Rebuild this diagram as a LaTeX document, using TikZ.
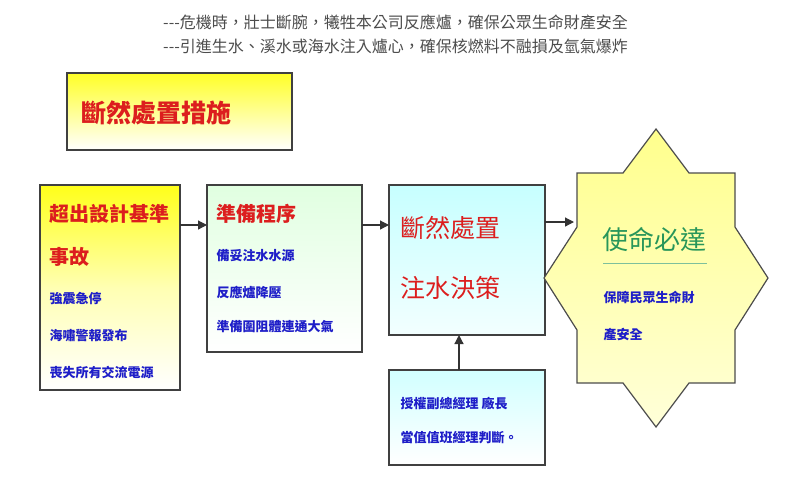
\documentclass[tikz,border=0pt]{standalone}
\usepackage{fontspec}
\setmainfont{Noto Sans CJK TC}
\usetikzlibrary{arrows.meta}
\definecolor{tred}{RGB}{220,30,30}
\definecolor{tblue}{RGB}{30,30,200}
\definecolor{tgreen}{RGB}{40,150,90}
\begin{document}
\begin{tikzpicture}[x=1pt,y=-1pt,
 box/.style={draw=black!75,line width=1.2pt},
 arr/.style={-{Triangle[length=9pt,width=9pt]},line width=1.2pt,black!80},
 red/.style={text=tred,font=\fontsize{20}{24}\selectfont\bfseries,anchor=west},
 blu/.style={text=tblue,font=\fontsize{13}{15}\selectfont\bfseries,anchor=west},
 hdr/.style={text=black!70,font=\fontsize{16}{18}\selectfont,anchor=west,inner sep=0}]
\useasboundingbox (0,0) rectangle (800,483);
\node[hdr] (h1) at (163,22) {{-}{-}{-}危機時，壯士斷腕，犧牲本公司反應爐，確保公眾生命財產安全};
\node[hdr] (h2) at (163,46) {{-}{-}{-}引進生水、溪水或海水注入爐心，確保核燃料不融損及氫氣爆炸};
% title
\shade[box,left color=yellow!85,right color=white,shading angle=0] (67,73) rectangle (292,150);
\node[red,font=\fontsize{25}{28}\selectfont\bfseries] (t) at (78,113) {斷然處置措施};
% box1
\shade[box,top color=yellow!90,bottom color=white,middle color=yellow!30] (40,185) rectangle (180,390);
\coordinate (b1r) at (180,225);
\node[red] (a1) at (46,214) {超出設計基準};
\node[red] (a2) at (46,257) {事故};
\node[blu] (a3) at (46,299) {強震急停};
\node[blu] (a4) at (46,336) {海嘯警報發布};
\node[blu] (a5) at (46,373) {喪失所有交流電源};
% box2
\shade[box,top color=green!12,bottom color=white] (207,185) rectangle (362,352);
\coordinate (b2l) at (207,225); \coordinate (b2r) at (362,225);
\node[red] (c1) at (213,214) {準備程序};
\node[blu] (c2) at (213,256) {備妥注水水源};
\node[blu] (c3) at (213,292) {反應爐降壓};
\node[blu] (c4) at (213,327) {準備圍阻體連通大氣};
% box3
\shade[box,top color=cyan!22,bottom color=cyan!5] (389,185) rectangle (545,335);
\coordinate (b3l) at (389,225); \coordinate (b3r) at (545,222); \coordinate (b3b) at (459,335);
\node[red,font=\fontsize{25}{28}\selectfont] (d1) at (397,228) {斷然處置};
\node[red,font=\fontsize{25}{28}\selectfont] (d2) at (397,288) {注水決策};
% box4
\shade[box,top color=cyan!18,bottom color=white] (389,370) rectangle (545,465);
\coordinate (b4t) at (459,370);
\node[blu] (e1) at (397,403) {授權副總經理 廠長};
\node[blu] (e2) at (397,438) {當值值班經理判斷。};
% star
\shade[draw=black!70,line width=1.2pt,top color=yellow!45,bottom color=yellow!15]
 (577,173) -- (623,173) -- (656,129) -- (689,173) -- (735,173) -- (735,227) -- (768,278) -- (735,330)
 -- (735,383) -- (689,383) -- (656,427) -- (623,383) -- (577,383) -- (577,330) -- (544,278) -- (577,227) -- cycle;
\coordinate (sl) at (574,222);
\node[text=tgreen,font=\fontsize{26}{30}\selectfont,anchor=west] (f1) at (599,240) {使命必達};
\draw[tgreen!60,line width=1pt] (603,263) -- (707,263);
\node[blu] (f2) at (600,297) {保障民眾生命財};
\node[blu] (f3) at (600,335) {產安全};
% arrows
\draw[arr] (b1r) -- (b2l);
\draw[arr] (b2r) -- (b3l);
\draw[arr] (b3r) -- (sl);
\draw[arr] (b4t) -- (b3b);
\end{tikzpicture}
\end{document}
